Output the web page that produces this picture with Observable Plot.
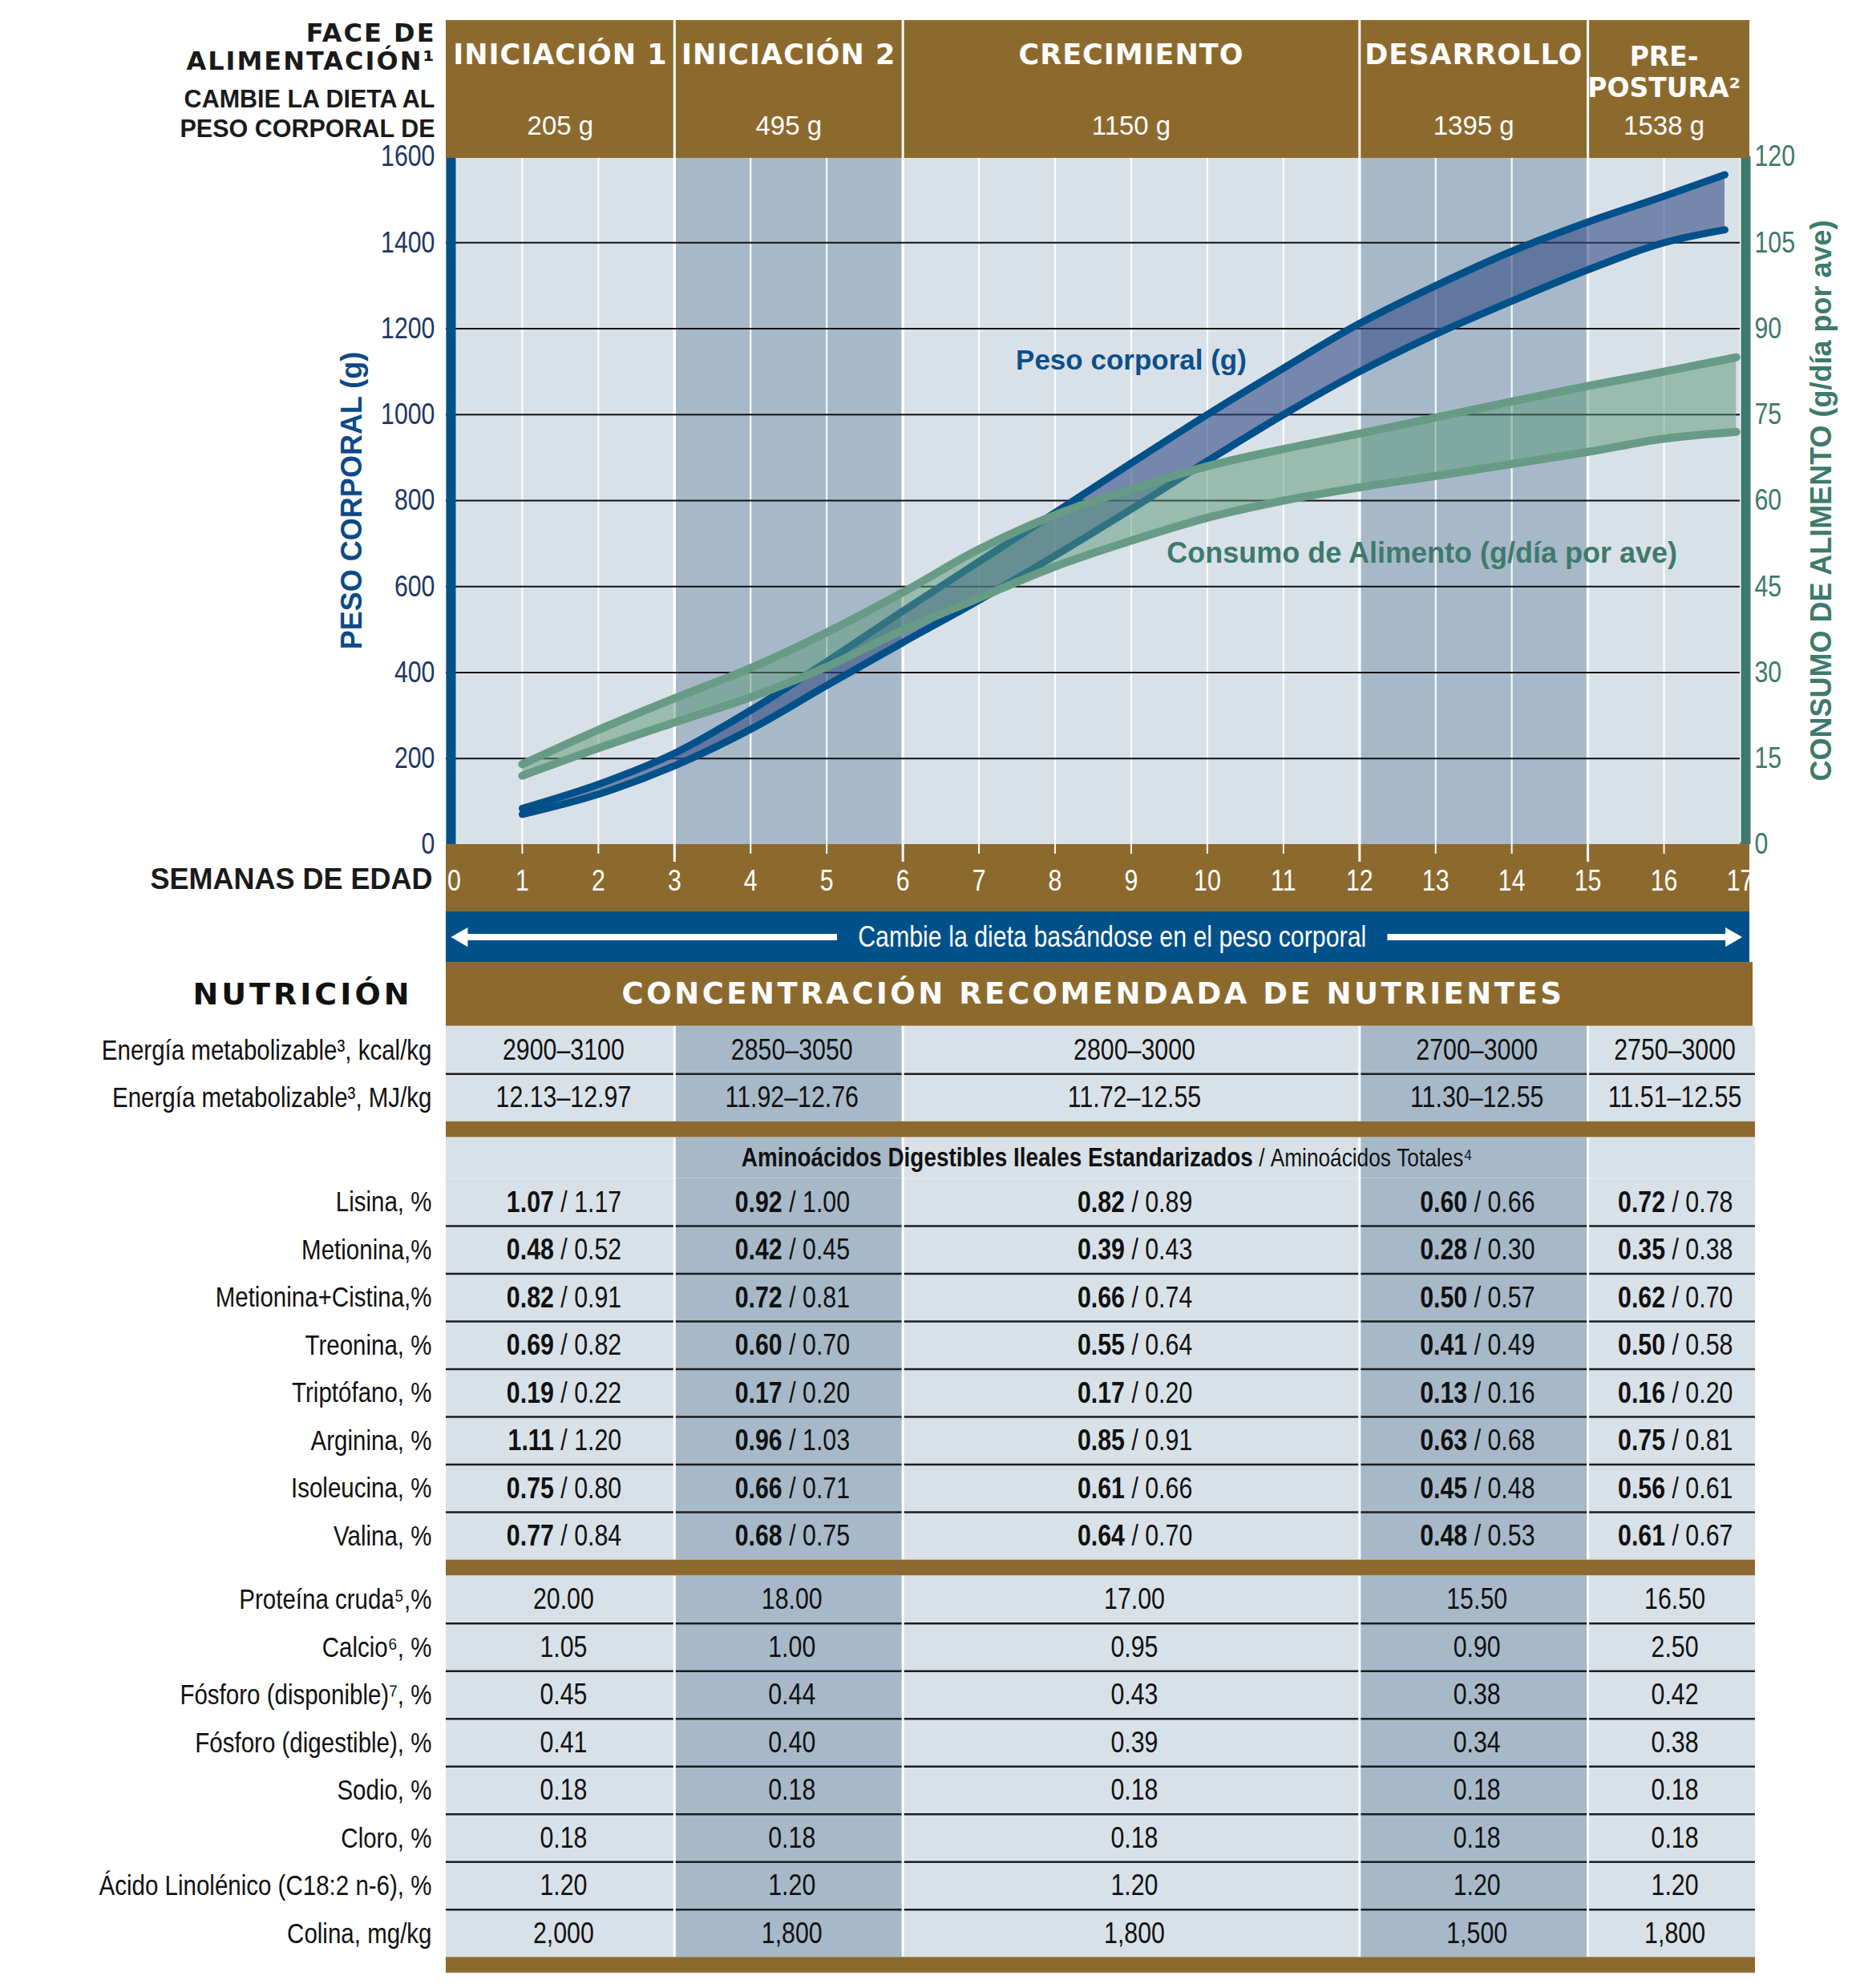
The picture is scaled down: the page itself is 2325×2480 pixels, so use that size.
<!DOCTYPE html>
<html>
<head>
<meta charset="utf-8">
<script src="https://cdn.jsdelivr.net/npm/d3@7"></script>
<script src="https://cdn.jsdelivr.net/npm/@observablehq/plot@0.6"></script>
<style>
  html, body { margin: 0; padding: 0; background: white; }
  #page { position: relative; width: 2325px; height: 2480px; background: white; overflow: hidden; }
  #page > div { position: absolute; left: 0; }
</style>
</head>
<body>
<div id="page">
  <div id="axisband"></div>
  <div id="chart" style="top:0"></div>
  <div id="header" style="top:0"></div>
  <div id="table" style="top:1137px"></div>
</div>
<script>
// ---------------- DATA ----------------
const phaseNames = ["INICIACIÓN 1", "INICIACIÓN 2", "CRECIMIENTO", "DESARROLLO", "PRE-\nPOSTURA²"];
const phaseStart = [0, 3, 6, 12, 15];
const phaseEnd = [3, 6, 12, 15, 17];
const phaseWeight = ["205 g", "495 g", "1150 g", "1395 g", "1538 g"];

const weekTicks = [0, 1, 2, 3, 4, 5, 6, 7, 8, 9, 10, 11, 12, 13, 14, 15, 16, 17];
const bodyTicks = [0, 200, 400, 600, 800, 1000, 1200, 1400, 1600];
const feedTicks = [0, 15, 30, 45, 60, 75, 90, 105, 120];

// Peso corporal (g): upper and lower limits of the range
const bwWeeks = [1, 2, 3, 4, 5, 6, 7, 8, 9, 10, 11, 12, 13, 14, 15, 16, 16.8];
const bwUpper = [84, 140, 212, 312, 425, 543, 658, 772, 887, 1000, 1108, 1212, 1300, 1380, 1448, 1508, 1558];
const bwLower = [70, 117, 183, 268, 370, 470, 568, 672, 780, 892, 1000, 1100, 1187, 1264, 1337, 1400, 1430];

// Consumo de alimento (g/día por ave)
const feedWeeks = [1, 2, 3, 4, 5, 6, 7, 8, 9, 10, 11, 12, 13, 14, 15, 16, 16.95];
const feedUpper = [14, 20, 25.5, 30.8, 37, 44, 51.5, 57.5, 62, 66, 69, 71.7, 74.5, 77.3, 80, 82.5, 85];
const feedLower = [12, 16.8, 21.3, 25.7, 31, 37.4, 43, 48.5, 53, 57, 60, 62.3, 64.3, 66.4, 68.5, 70.8, 72];

// Table
const energyLabels = ["Energía metabolizable³, kcal/kg", "Energía metabolizable³, MJ/kg"];
const energyValues = [
  ["2900–3100", "2850–3050", "2800–3000", "2700–3000", "2750–3000"],
  ["12.13–12.97", "11.92–12.76", "11.72–12.55", "11.30–12.55", "11.51–12.55"]
];
const aminoHeadBold = "Aminoácidos Digestibles Ileales Estandarizados";
const aminoHeadRegular = " / Aminoácidos Totales⁴";
const aminoLabels = ["Lisina, %", "Metionina,%", "Metionina+Cistina,%", "Treonina, %", "Triptófano, %", "Arginina, %", "Isoleucina, %", "Valina, %"];
const aminoDigestible = [
  ["1.07", "0.92", "0.82", "0.60", "0.72"],
  ["0.48", "0.42", "0.39", "0.28", "0.35"],
  ["0.82", "0.72", "0.66", "0.50", "0.62"],
  ["0.69", "0.60", "0.55", "0.41", "0.50"],
  ["0.19", "0.17", "0.17", "0.13", "0.16"],
  ["1.11", "0.96", "0.85", "0.63", "0.75"],
  ["0.75", "0.66", "0.61", "0.45", "0.56"],
  ["0.77", "0.68", "0.64", "0.48", "0.61"]
];
const aminoTotal = [
  ["1.17", "1.00", "0.89", "0.66", "0.78"],
  ["0.52", "0.45", "0.43", "0.30", "0.38"],
  ["0.91", "0.81", "0.74", "0.57", "0.70"],
  ["0.82", "0.70", "0.64", "0.49", "0.58"],
  ["0.22", "0.20", "0.20", "0.16", "0.20"],
  ["1.20", "1.03", "0.91", "0.68", "0.81"],
  ["0.80", "0.71", "0.66", "0.48", "0.61"],
  ["0.84", "0.75", "0.70", "0.53", "0.67"]
];
const otherLabels = ["Proteína cruda⁵,%", "Calcio⁶, %", "Fósforo (disponible)⁷, %", "Fósforo (digestible), %", "Sodio, %", "Cloro, %", "Ácido Linolénico (C18:2 n-6), %", "Colina, mg/kg"];
const otherValues = [
  ["20.00", "18.00", "17.00", "15.50", "16.50"],
  ["1.05", "1.00", "0.95", "0.90", "2.50"],
  ["0.45", "0.44", "0.43", "0.38", "0.42"],
  ["0.41", "0.40", "0.39", "0.34", "0.38"],
  ["0.18", "0.18", "0.18", "0.18", "0.18"],
  ["0.18", "0.18", "0.18", "0.18", "0.18"],
  ["1.20", "1.20", "1.20", "1.20", "1.20"],
  ["2,000", "1,800", "1,800", "1,500", "1,800"]
];

// ---------------- STYLE ----------------
const BROWN = "#8c6a2e";
const NAVY = "#00508a";
const LIGHT = "#d9e1e8";
const DARK = "#a7b9c9";
const GREEN_LINE = "#679b86";
const GREEN_AXIS = "#3e7a6c";
const HEAVY = "'DejaVu Sans', sans-serif";
// condensed face: Liberation Sans squeezed horizontally (see finish())
const NARROW = "'Liberation Sans', 'x-narrow', Arial, sans-serif";
const SANS = "'Liberation Sans', Arial, sans-serif";

const W = 2325, ML = 556, MR = 155;
const PPW = (W - ML - MR) / 17;          // pixels per week
const ext = px => px / PPW;              // pixel overhang expressed in weeks

function finish(svg) {
  svg.querySelectorAll('g[aria-description^="ls"]').forEach(g => {
    g.style.letterSpacing = g.getAttribute("aria-description").slice(2) + "px";
  });
  svg.querySelectorAll('[font-family*="x-narrow"] text').forEach(t => {
    const tr = t.getAttribute("transform") || "";
    t.setAttribute("transform", tr + " scale(0.82,1)");
  });
  return svg;
}

const phases = phaseNames.map((name, i) => ({name, start: phaseStart[i], end: phaseEnd[i], mid: (phaseStart[i] + phaseEnd[i]) / 2, weight: phaseWeight[i], i}));
const K = 1600 / 120;
const bw = bwWeeks.map((w, i) => ({w, hi: bwUpper[i], lo: bwLower[i]}));
const feed = feedWeeks.map((w, i) => ({w, hi: feedUpper[i] * K, lo: feedLower[i] * K}));
const innerWeeks = weekTicks.filter(w => w > 0 && w < 17 && !phaseStart.includes(w));
const bounds = phaseStart.slice(1);

// brown x-axis band (decoration behind the chart)
Object.assign(document.getElementById("axisband").style, {left: "556px", top: "1051px", width: "1626px", height: "86px", background: BROWN});

// ---------------- CHART ----------------
const chart = Plot.plot({
  width: W, height: 1137,
  marginLeft: ML, marginRight: MR, marginTop: 195, marginBottom: 84,
  style: {background: "transparent", overflow: "visible"},
  x: {domain: [0, 17]},
  y: {domain: [0, 1600]},
  marks: [
    Plot.rect(phases, {x1: "start", x2: "end", y1: 0, y2: 1600, fill: d => d.i % 2 ? DARK : LIGHT}),
    Plot.ruleX(innerWeeks, {stroke: "white", strokeWidth: 2, y1: 0, y2: 1600}),
    Plot.ruleX(bounds, {stroke: "white", strokeWidth: 3.5, y1: 0, y2: 1600}),
    Plot.ruleY(bodyTicks.filter(v => v > 0 && v < 1600), {stroke: "#111", strokeWidth: 2}),
    Plot.areaY(bw, {x: "w", y1: "lo", y2: "hi", fill: "#324b86", fillOpacity: 0.6, curve: "monotone-x"}),
    Plot.lineY(bw, {x: "w", y: "hi", stroke: NAVY, strokeWidth: 9, curve: "monotone-x", strokeLinecap: "round"}),
    Plot.lineY(bw, {x: "w", y: "lo", stroke: NAVY, strokeWidth: 9, curve: "monotone-x", strokeLinecap: "round"}),
    Plot.areaY(feed, {x: "w", y1: "lo", y2: "hi", fill: "#5a9678", fillOpacity: 0.5, curve: "monotone-x"}),
    Plot.lineY(feed, {x: "w", y: "hi", stroke: GREEN_LINE, strokeWidth: 10, curve: "monotone-x", strokeLinecap: "round"}),
    Plot.lineY(feed, {x: "w", y: "lo", stroke: GREEN_LINE, strokeWidth: 10, curve: "monotone-x", strokeLinecap: "round"}),
    Plot.ruleX([0], {stroke: NAVY, strokeWidth: 12, dx: 6, y1: 0, y2: 1600}),
    Plot.ruleX([17], {stroke: GREEN_AXIS, strokeWidth: 12, dx: 7, y1: 0, y2: 1600}),
    Plot.axisY(bodyTicks, {anchor: "left", tickSize: 0, tickPadding: 14, tickFormat: d => String(d), fontSize: 37, fontFamily: NARROW, fill: "#1e3764", label: null}),
    Plot.axisY(feedTicks.map(f => f * K), {anchor: "right", tickSize: 0, tickPadding: 18, tickFormat: v => String(Math.round(v / K)), fontSize: 37, fontFamily: NARROW, fill: GREEN_AXIS, label: null}),
    Plot.axisX(weekTicks.slice(1), {anchor: "bottom", tickSize: 0, tickPadding: 31, tickFormat: d => String(d), fontSize: 37, fontFamily: NARROW, fill: "white", label: null}),
    Plot.axisX(weekTicks.slice(0, 1), {anchor: "bottom", tickSize: 0, tickPadding: 31, dx: 10, tickFormat: d => String(d), fontSize: 37, fontFamily: NARROW, fill: "white", label: null}),
    Plot.axisX(innerWeeks, {anchor: "bottom", tickSize: 12, tickFormat: () => "", stroke: "white", strokeWidth: 2, label: null}),
    Plot.axisX(bounds, {anchor: "bottom", tickSize: 22, tickFormat: () => "", stroke: "white", strokeWidth: 3, label: null}),
    Plot.text(["PESO CORPORAL (g)"], {frameAnchor: "left", textAnchor: "middle", rotate: -90, dx: -117, fontFamily: SANS, fontWeight: "bold", fontSize: 36, fill: "#0d4a86"}),
    Plot.text(["CONSUMO DE ALIMENTO (g/día por ave)"], {frameAnchor: "right", textAnchor: "middle", rotate: -90, dx: 102, fontFamily: SANS, fontWeight: "bold", fontSize: 36, fill: GREEN_AXIS}),
    Plot.text([{x: 9, y: 1125, t: "Peso corporal (g)"}], {x: "x", y: "y", text: "t", fontFamily: SANS, fontWeight: "bold", fontSize: 35, fill: "#0d4f8a"}),
    Plot.text([{x: 12.82, y: 677, t: "Consumo de Alimento (g/día por ave)"}], {x: "x", y: "y", text: "t", fontFamily: SANS, fontWeight: "bold", fontSize: 36, fill: GREEN_AXIS}),
    Plot.text([{x: 0, y: 0, t: "SEMANAS DE EDAD"}], {x: "x", y: "y", text: "t", textAnchor: "end", dx: -17, dy: 44, fontFamily: SANS, fontWeight: "bold", fontSize: 36, fill: "#1a1a1a"})
  ]
});
document.getElementById("chart").appendChild(finish(chart));

// ---------------- HEADER ----------------
const header = Plot.plot({
  width: W, height: 197,
  marginLeft: ML, marginRight: MR, marginTop: 25, marginBottom: 0,
  style: {background: "transparent", overflow: "visible"},
  x: {domain: [0, 17], axis: null},
  y: {domain: ["fase", "peso"], axis: null, paddingInner: 0, paddingOuter: 0},
  marks: [
    Plot.rect([{a: phaseStart[0], b: phaseEnd[phaseEnd.length - 1] + ext(12)}], {x1: "a", x2: "b", fill: BROWN}),
    Plot.ruleX(bounds, {stroke: "white", strokeWidth: 3}),
    Plot.text(phases.slice(0, 4), {x: "mid", y: () => "fase", text: "name", lineAnchor: "top", dy: -13, fill: "white", fontFamily: HEAVY, fontWeight: "bold", fontSize: 35, ariaDescription: "ls1"}),
    Plot.text(phases.slice(4), {x: "mid", y: () => "fase", text: "name", lineAnchor: "top", dy: -15, lineHeight: 1.2, fill: "white", fontFamily: HEAVY, fontWeight: "bold", fontSize: 33}),
    Plot.text(phases, {x: "mid", y: () => "peso", text: "weight", dy: 3, fill: "white", fontFamily: SANS, fontSize: 33}),
    Plot.text(["FACE DE"], {x: () => 0, y: () => "fase", textAnchor: "end", dx: -13, dy: -27, fontFamily: HEAVY, fontWeight: "bold", fontSize: 32, fill: "#1a1a1a", ariaDescription: "ls2"}),
    Plot.text(["ALIMENTACIÓN¹"], {x: () => 0, y: () => "fase", textAnchor: "end", dx: -13, dy: 8, fontFamily: HEAVY, fontWeight: "bold", fontSize: 32, fill: "#1a1a1a", ariaDescription: "ls2"}),
    Plot.text(["CAMBIE LA DIETA AL"], {x: () => 0, y: () => "peso", textAnchor: "end", dx: -14, dy: -30, fontFamily: SANS, fontWeight: "bold", fontSize: 30.5, fill: "#1a1a1a"}),
    Plot.text(["PESO CORPORAL DE"], {x: () => 0, y: () => "peso", textAnchor: "end", dx: -14, dy: 7, fontFamily: SANS, fontWeight: "bold", fontSize: 30.5, fill: "#1a1a1a"})
  ]
});
document.getElementById("header").appendChild(finish(header));

// ---------------- TABLE ----------------
const ROW = 59.5;
const tableEnd = phaseEnd[phaseEnd.length - 1] + ext(19);
const cols = phases.map(p => {
  const end = p.i === phases.length - 1 ? tableEnd : p.end;
  return {start: p.start, end, mid: (p.start + end) / 2, i: p.i};
});
const spec = [];
spec.push({kind: "arrow", h: 1.06});
spec.push({kind: "title", h: 1.34});
energyLabels.forEach((l, i) => spec.push({kind: "plain", group: "energy", label: l, values: energyValues[i], h: 1}));
spec.push({kind: "sep", h: 0.33});
spec.push({kind: "aminoHead", group: "amino", h: 0.86});
aminoLabels.forEach((l, i) => spec.push({kind: "amino", group: "amino", label: l, dig: aminoDigestible[i], tot: aminoTotal[i], h: 1}));
spec.push({kind: "sep", h: 0.33});
otherLabels.forEach((l, i) => spec.push({kind: "plain", group: "other", label: l, values: otherValues[i], h: 1}));
spec.push({kind: "sep", h: 0.33});
let acc = 0;
spec.forEach(r => { r.y1 = acc; r.y2 = acc + r.h; r.ym = acc + r.h / 2; acc += r.h; });
const total = acc;

const cellRows = spec.filter(r => r.group);
const cells = cellRows.flatMap(r => cols.map(c => ({x1: c.start, x2: c.end, y1: r.y1, y2: r.y2, i: c.i})));
const rowLines = spec.filter((r, i) => (r.kind === "plain" || r.kind === "amino") && spec[i + 1] && spec[i + 1].group === r.group).map(r => ({y: r.y2}));
const groupSpans = ["energy", "amino", "other"].map(g => {
  const rs = spec.filter(r => r.group === g);
  return {y1: rs[0].y1, y2: rs[rs.length - 1].y2};
});
const colSeps = groupSpans.flatMap(g => bounds.map(b => ({x: b, y1: g.y1, y2: g.y2})));
const plainTexts = spec.filter(r => r.kind === "plain").flatMap(r => cols.map(c => ({x: c.mid, y: r.ym, t: r.values[c.i]})));
const aminoTexts = spec.filter(r => r.kind === "amino").flatMap(r => cols.map(c => ({x: c.mid, y: r.ym, d: r.dig[c.i], t: "\u00A0/\u00A0" + r.tot[c.i]})));
const labelRows = spec.filter(r => r.label);
const arrowRow = spec.find(r => r.kind === "arrow");
const titleRow = spec.find(r => r.kind === "title");
const headRow = spec.find(r => r.kind === "aminoHead");
const seps = spec.filter(r => r.kind === "sep");
const mid = (phaseStart[0] + phaseEnd[phaseEnd.length - 1]) / 2;

const table = Plot.plot({
  width: W, height: Math.ceil(total * ROW) + 4,
  marginLeft: ML, marginRight: MR, marginTop: 0, marginBottom: 0,
  style: {background: "transparent", overflow: "visible"},
  x: {domain: [0, 17], axis: null},
  y: {domain: [0, total], range: [0, total * ROW], axis: null},
  marks: [
    // arrow band
    Plot.rect([arrowRow], {x1: 0, x2: 17 + ext(12), y1: "y1", y2: "y2", fill: NAVY}),
    Plot.ruleY([arrowRow], {y: "ym", x1: 0.21, x2: 5.14, stroke: "white", strokeWidth: 8}),
    Plot.ruleY([arrowRow], {y: "ym", x1: 12.37, x2: 16.88, stroke: "white", strokeWidth: 8}),
    Plot.dot([{x: 0.21, y: arrowRow.ym}], {x: "x", y: "y", symbol: "triangle", r: 9, rotate: -90, fill: "white", stroke: "none"}),
    Plot.dot([{x: 16.88, y: arrowRow.ym}], {x: "x", y: "y", symbol: "triangle", r: 9, rotate: 90, fill: "white", stroke: "none"}),
    Plot.text([{x: 8.75, y: arrowRow.ym, t: "Cambie la dieta basándose en el peso corporal"}], {x: "x", y: "y", text: "t", fill: "white", fontFamily: NARROW, fontSize: 37}),
    // title band
    Plot.rect([titleRow], {x1: 0, x2: 17 + ext(16), y1: "y1", y2: "y2", fill: BROWN}),
    Plot.text([{x: mid, y: titleRow.ym, t: "CONCENTRACIÓN RECOMENDADA DE NUTRIENTES"}], {x: "x", y: "y", text: "t", fill: "white", fontFamily: HEAVY, fontWeight: "bold", fontSize: 37, ariaDescription: "ls3.5"}),
    Plot.text([{x: 0, y: titleRow.ym, t: "NUTRICIÓN"}], {x: "x", y: "y", text: "t", textAnchor: "end", dx: -42, fill: "#111", fontFamily: HEAVY, fontWeight: "bold", fontSize: 38, ariaDescription: "ls4"}),
    // cells
    Plot.rect(cells, {x1: "x1", x2: "x2", y1: "y1", y2: "y2", fill: d => d.i % 2 ? DARK : LIGHT}),
    Plot.ruleY(rowLines, {y: "y", x1: 0, x2: tableEnd, stroke: "#1c1c1c", strokeWidth: 2.5}),
    Plot.ruleX(colSeps, {x: "x", y1: "y1", y2: "y2", stroke: "white", strokeWidth: 3}),
    // brown separators
    Plot.rect(seps, {x1: 0, x2: tableEnd, y1: "y1", y2: "y2", fill: BROWN}),
    // labels
    Plot.text(labelRows, {x: 0, y: "ym", text: "label", textAnchor: "end", dx: -18, fontFamily: NARROW, fontSize: 36, fill: "#111"}),
    Plot.text(plainTexts, {x: "x", y: "y", text: "t", dx: 4, fontFamily: NARROW, fontSize: 37, fill: "#111"}),
    Plot.text(aminoTexts, {x: "x", y: "y", text: "d", textAnchor: "end", dx: -8, fontFamily: NARROW, fontWeight: "bold", fontSize: 37, fill: "#111"}),
    Plot.text(aminoTexts, {x: "x", y: "y", text: "t", textAnchor: "start", dx: -8, fontFamily: NARROW, fontSize: 37, fill: "#111"}),
    Plot.text([{x: 10.6, y: headRow.ym, t: aminoHeadBold}], {x: "x", y: "y", text: "t", textAnchor: "end", fontFamily: NARROW, fontWeight: "bold", fontSize: 34, fill: "#111"}),
    Plot.text([{x: 10.6, y: headRow.ym, t: aminoHeadRegular.replace(/ /g, "\u00A0")}], {x: "x", y: "y", text: "t", textAnchor: "start", fontFamily: NARROW, fontSize: 32, fill: "#111"})
  ]
});
document.getElementById("table").appendChild(finish(table));
</script>
</body>
</html>
